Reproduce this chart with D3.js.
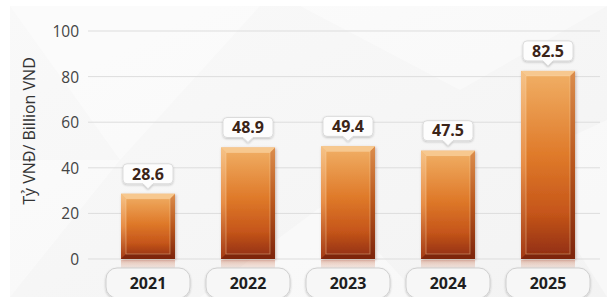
<!DOCTYPE html>
<html><head><meta charset="utf-8">
<script src="https://cdn.jsdelivr.net/npm/d3@7"></script>
<style>html,body{margin:0;padding:0;background:#fff}svg{display:block}</style>
</head><body><svg id="c" width="607" height="297"></svg>
<script>
const years = ["2021","2022","2023","2024","2025"];
const values = [28.6, 48.9, 49.4, 47.5, 82.5];
const yTicks = [0, 20, 40, 60, 80, 100];
const yTitle = "Tỷ VNĐ/ Billion VND";

const W = 607, H = 297;
const svg = d3.select("#c");
const defs = svg.append("defs");

// background
const bg = defs.append("linearGradient").attr("id","bg").attr("x1",0).attr("y1",0).attr("x2",1).attr("y2",1);
bg.append("stop").attr("offset","0%").attr("stop-color","#f9f9f9");
bg.append("stop").attr("offset","100%").attr("stop-color","#f3f3f3");
svg.append("rect").attr("width",W).attr("height",H).attr("fill","#fff");
svg.append("rect").attr("x",10).attr("y",6).attr("width",W-10).attr("height",H-6).attr("fill","url(#bg)");
const facets = [
  [[10,6],[260,6],[120,160]],
  [[10,160],[120,160],[10,297]],
  [[300,6],[607,6],[460,90]],
  [[520,160],[607,120],[607,297]],
  [[200,297],[330,200],[420,297]]
];
svg.append("g").selectAll("polygon").data(facets).join("polygon")
  .attr("points", d => d.map(p => p.join(",")).join(" "))
  .attr("fill","#ffffff").attr("opacity",0.4);

const x = d3.scaleBand().domain(years).range([98, 598]).paddingInner(0.46).paddingOuter(0.23);
const y = d3.scaleLinear().domain([0, 100]).range([259, 31]);

// grid
svg.append("g").selectAll("line").data(yTicks).join("line")
  .attr("x1",88).attr("x2",600)
  .attr("y1",d=>y(d)).attr("y2",d=>y(d))
  .attr("stroke","#dddddd").attr("stroke-width",1);

// y axis
const yAxis = d3.axisLeft(y).tickValues(yTicks).tickSize(0).tickPadding(0);
const ga = svg.append("g").attr("transform","translate(79,0)").call(yAxis);
ga.select(".domain").remove();
ga.selectAll("text").attr("font-family","'Open Sans', sans-serif").attr("font-size",15.5)
  .attr("fill","#444").attr("dy","0.35em");

svg.append("text").attr("transform","translate(35,131) rotate(-90)")
  .attr("text-anchor","middle").attr("font-family","'Open Sans', sans-serif")
  .attr("font-size",16).attr("fill","#333").text(yTitle);

// gradients
const gMain = defs.append("linearGradient").attr("id","barG").attr("x1",0).attr("y1",0).attr("x2",0).attr("y2",1);
[["0%","#f1b066"],["45%","#df7a2a"],["75%","#c6561a"],["100%","#8e2c10"]].forEach(s=>gMain.append("stop").attr("offset",s[0]).attr("stop-color",s[1]));
const gL = defs.append("linearGradient").attr("id","barL").attr("x1",0).attr("y1",0).attr("x2",0).attr("y2",1);
[["0%","#f6c48a"],["50%","#e8904a"],["100%","#a43a14"]].forEach(s=>gL.append("stop").attr("offset",s[0]).attr("stop-color",s[1]));
const gR = defs.append("linearGradient").attr("id","barR").attr("x1",0).attr("y1",0).attr("x2",0).attr("y2",1);
[["0%","#d9894a"],["50%","#b5531c"],["100%","#7a230c"]].forEach(s=>gR.append("stop").attr("offset",s[0]).attr("stop-color",s[1]));
const gRef = defs.append("linearGradient").attr("id","refl").attr("x1",0).attr("y1",0).attr("x2",0).attr("y2",1);
gRef.append("stop").attr("offset","0%").attr("stop-color","#c8643a").attr("stop-opacity",0.35);
gRef.append("stop").attr("offset","100%").attr("stop-color","#c8643a").attr("stop-opacity",0);

const sh = defs.append("filter").attr("id","sh").attr("x","-20%").attr("y","-20%").attr("width","140%").attr("height","150%");
sh.append("feDropShadow").attr("dx",0).attr("dy",1).attr("stdDeviation",1.2).attr("flood-color","#000").attr("flood-opacity",0.22);
const bsh = defs.append("filter").attr("id","bsh").attr("x","-20%").attr("y","-10%").attr("width","140%").attr("height","130%");
bsh.append("feDropShadow").attr("dx",1).attr("dy",1).attr("stdDeviation",1.5).attr("flood-color","#5a2000").attr("flood-opacity",0.3);

const data = years.map((yr,i)=>({yr, v: values[i]}));
const bw = x.bandwidth();
const bev = 5;

const bars = svg.append("g").selectAll("g").data(data).join("g");
bars.append("rect").attr("x",d=>x(d.yr)).attr("y",y(0)+1).attr("width",bw).attr("height",12).attr("fill","url(#refl)");
bars.append("rect").attr("x",d=>x(d.yr)).attr("y",d=>y(d.v)).attr("width",bw).attr("height",d=>y(0)-y(d.v))
  .attr("fill","url(#barG)").attr("filter","url(#bsh)");
bars.append("polygon").attr("points",d=>{const x0=x(d.yr),t=y(d.v),b=y(0);return `${x0},${t} ${x0+bev},${t+bev} ${x0+bev},${b-bev} ${x0},${b}`;})
  .attr("fill","url(#barL)").attr("opacity",0.9);
bars.append("polygon").attr("points",d=>{const x1=x(d.yr)+bw,t=y(d.v),b=y(0);return `${x1},${t} ${x1-bev},${t+bev} ${x1-bev},${b-bev} ${x1},${b}`;})
  .attr("fill","url(#barR)").attr("opacity",0.9);
bars.append("polygon").attr("points",d=>{const x0=x(d.yr),x1=x0+bw,t=y(d.v);return `${x0},${t} ${x1},${t} ${x1-bev},${t+bev} ${x0+bev},${t+bev}`;})
  .attr("fill","#f7c88f");
bars.append("polygon").attr("points",d=>{const x0=x(d.yr),x1=x0+bw,b=y(0);return `${x0},${b} ${x1},${b} ${x1-bev},${b-bev} ${x0+bev},${b-bev}`;})
  .attr("fill","#7a230c").attr("opacity",0.85);
bars.append("rect").attr("x",d=>x(d.yr)+bev).attr("y",d=>y(d.v)+bev).attr("width",bw-2*bev).attr("height",d=>y(0)-y(d.v)-2*bev)
  .attr("fill","none").attr("stroke","#fbd6a8").attr("stroke-opacity",0.5).attr("stroke-width",0.8);

// value callouts
const bxW = 50, bxH = 20;
const lab = svg.append("g").selectAll("g").data(data).join("g")
  .attr("transform",d=>`translate(${x(d.yr)+bw/2},${y(d.v)-10})`);
lab.append("path").attr("d",()=>{
  const w=bxW/2, h=bxH, r=4, p=5;
  return `M${-w+r},${-h} H${w-r} Q${w},${-h} ${w},${-h+r} V${-r} Q${w},0 ${w-r},0 H${p} L0,${p} L${-p},0 H${-w+r} Q${-w},0 ${-w},${-r} V${-h+r} Q${-w},${-h} ${-w+r},${-h} Z`;
}).attr("fill","#fdfdfd").attr("stroke","#d4d4d4").attr("stroke-width",0.8).attr("filter","url(#sh)");
lab.append("text").attr("y",-bxH/2).attr("dy","0.36em").attr("text-anchor","middle")
  .attr("font-family","'Open Sans', sans-serif").attr("font-weight",700).attr("font-size",16)
  .attr("fill","#3b2418").text(d=>d.v.toFixed(1));

// category pills
const pw = 84, ph = 30;
const cat = svg.append("g").selectAll("g").data(data).join("g")
  .attr("transform",d=>`translate(${x(d.yr)+bw/2},268)`);
cat.append("rect").attr("x",-pw/2).attr("y",0).attr("width",pw).attr("height",ph).attr("rx",11)
  .attr("fill","#f7f7f7").attr("stroke","#cfcfcf").attr("stroke-width",1).attr("filter","url(#sh)");
cat.append("text").attr("y",15).attr("dy","0.36em").attr("text-anchor","middle")
  .attr("font-family","'Open Sans', sans-serif").attr("font-weight",700).attr("font-size",16)
  .attr("fill","#1e1e1e").text(d=>d.yr);
</script></body></html>
